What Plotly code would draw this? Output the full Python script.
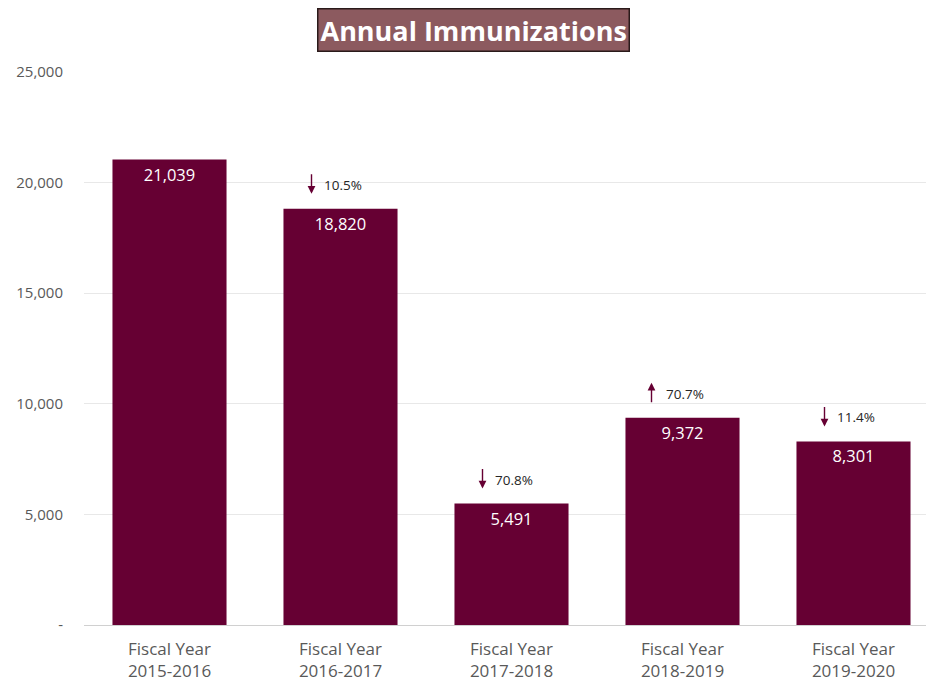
import plotly.graph_objects as go

years = ["Fiscal Year<br>2015-2016", "Fiscal Year<br>2016-2017", "Fiscal Year<br>2017-2018",
         "Fiscal Year<br>2018-2019", "Fiscal Year<br>2019-2020"]
immunizations = [21039, 18820, 5491, 9372, 8301]
pct_change = [None, "10.5%", "70.8%", "70.7%", "11.4%"]
direction = [None, "down", "down", "up", "down"]

tick_vals = [0, 5000, 10000, 15000, 20000, 25000]
tick_text = ["-", "5,000", "10,000", "15,000", "20,000", "25,000"]

BAR = "#660033"
FONT = "Open Sans"

fig = go.Figure()
fig.add_trace(go.Bar(
    x=list(range(len(years))), y=immunizations,
    marker=dict(color=BAR, line=dict(width=0)),
    width=0.667,
    text=[f"{v:,}" for v in immunizations],
    textposition="inside", insidetextanchor="end",
    textfont=dict(color="white", size=16.5, family=FONT),
    textangle=0,
    hoverinfo="skip",
))

annotations = []
for i, (v, p, d) in enumerate(zip(immunizations, pct_change, direction)):
    if p is None:
        continue
    annotations.append(dict(
        x=i, y=v, xref="x", yref="y", text=p, showarrow=False,
        xanchor="left", yanchor="middle", xshift=-19, yshift=24,
        font=dict(size=13.5, color="#262626", family=FONT),
    ))
    if d == "down":
        annotations.append(dict(
            x=i, y=v, xref="x", yref="y", text="", showarrow=True,
            xshift=-29, yshift=15, ax=0, ay=-21,
            arrowhead=2, arrowsize=1.1, arrowwidth=1.4, arrowcolor=BAR,
        ))
    else:
        annotations.append(dict(
            x=i, y=v, xref="x", yref="y", text="", showarrow=True,
            xshift=-31, yshift=35, ax=0, ay=21,
            arrowhead=2, arrowsize=1.1, arrowwidth=1.4, arrowcolor=BAR,
        ))

annotations.append(dict(
    x=0.463, y=1.076, xref="paper", yref="paper", yanchor="middle", xanchor="center",
    text="<b>Annual Immunizations</b>", showarrow=False,
    font=dict(size=27, color="white", family=FONT),
    bgcolor="#8c5a5f", bordercolor="#2a1a1a", borderwidth=1.5, borderpad=2,
))

fig.update_layout(
    width=926, height=681,
    margin=dict(l=84, r=0, t=72, b=56),
    paper_bgcolor="white", plot_bgcolor="white",
    showlegend=False,
    annotations=annotations,
    font=dict(family=FONT, color="#595959"),
    xaxis=dict(
        range=[-0.5, 4.424], tickmode="array",
        tickvals=list(range(len(years))), ticktext=years,
        tickfont=dict(size=17, color="#595959", family=FONT),
        showgrid=False, zeroline=False, showline=False, ticks="",
        ticklabelstandoff=12,
    ),
    yaxis=dict(
        range=[0, 25000], tickmode="array", tickvals=tick_vals, ticktext=tick_text,
        tickfont=dict(size=15, color="#595959", family=FONT),
        showgrid=True, gridcolor="#e8e8e8", gridwidth=1,
        zeroline=True, zerolinecolor="#d0d0d0", zerolinewidth=1,
        ticks="", ticklabelstandoff=20,
    ),
)

fig.write_html("out.html", config={"displayModeBar": False},
               post_script="document.body.style.margin='0';")
